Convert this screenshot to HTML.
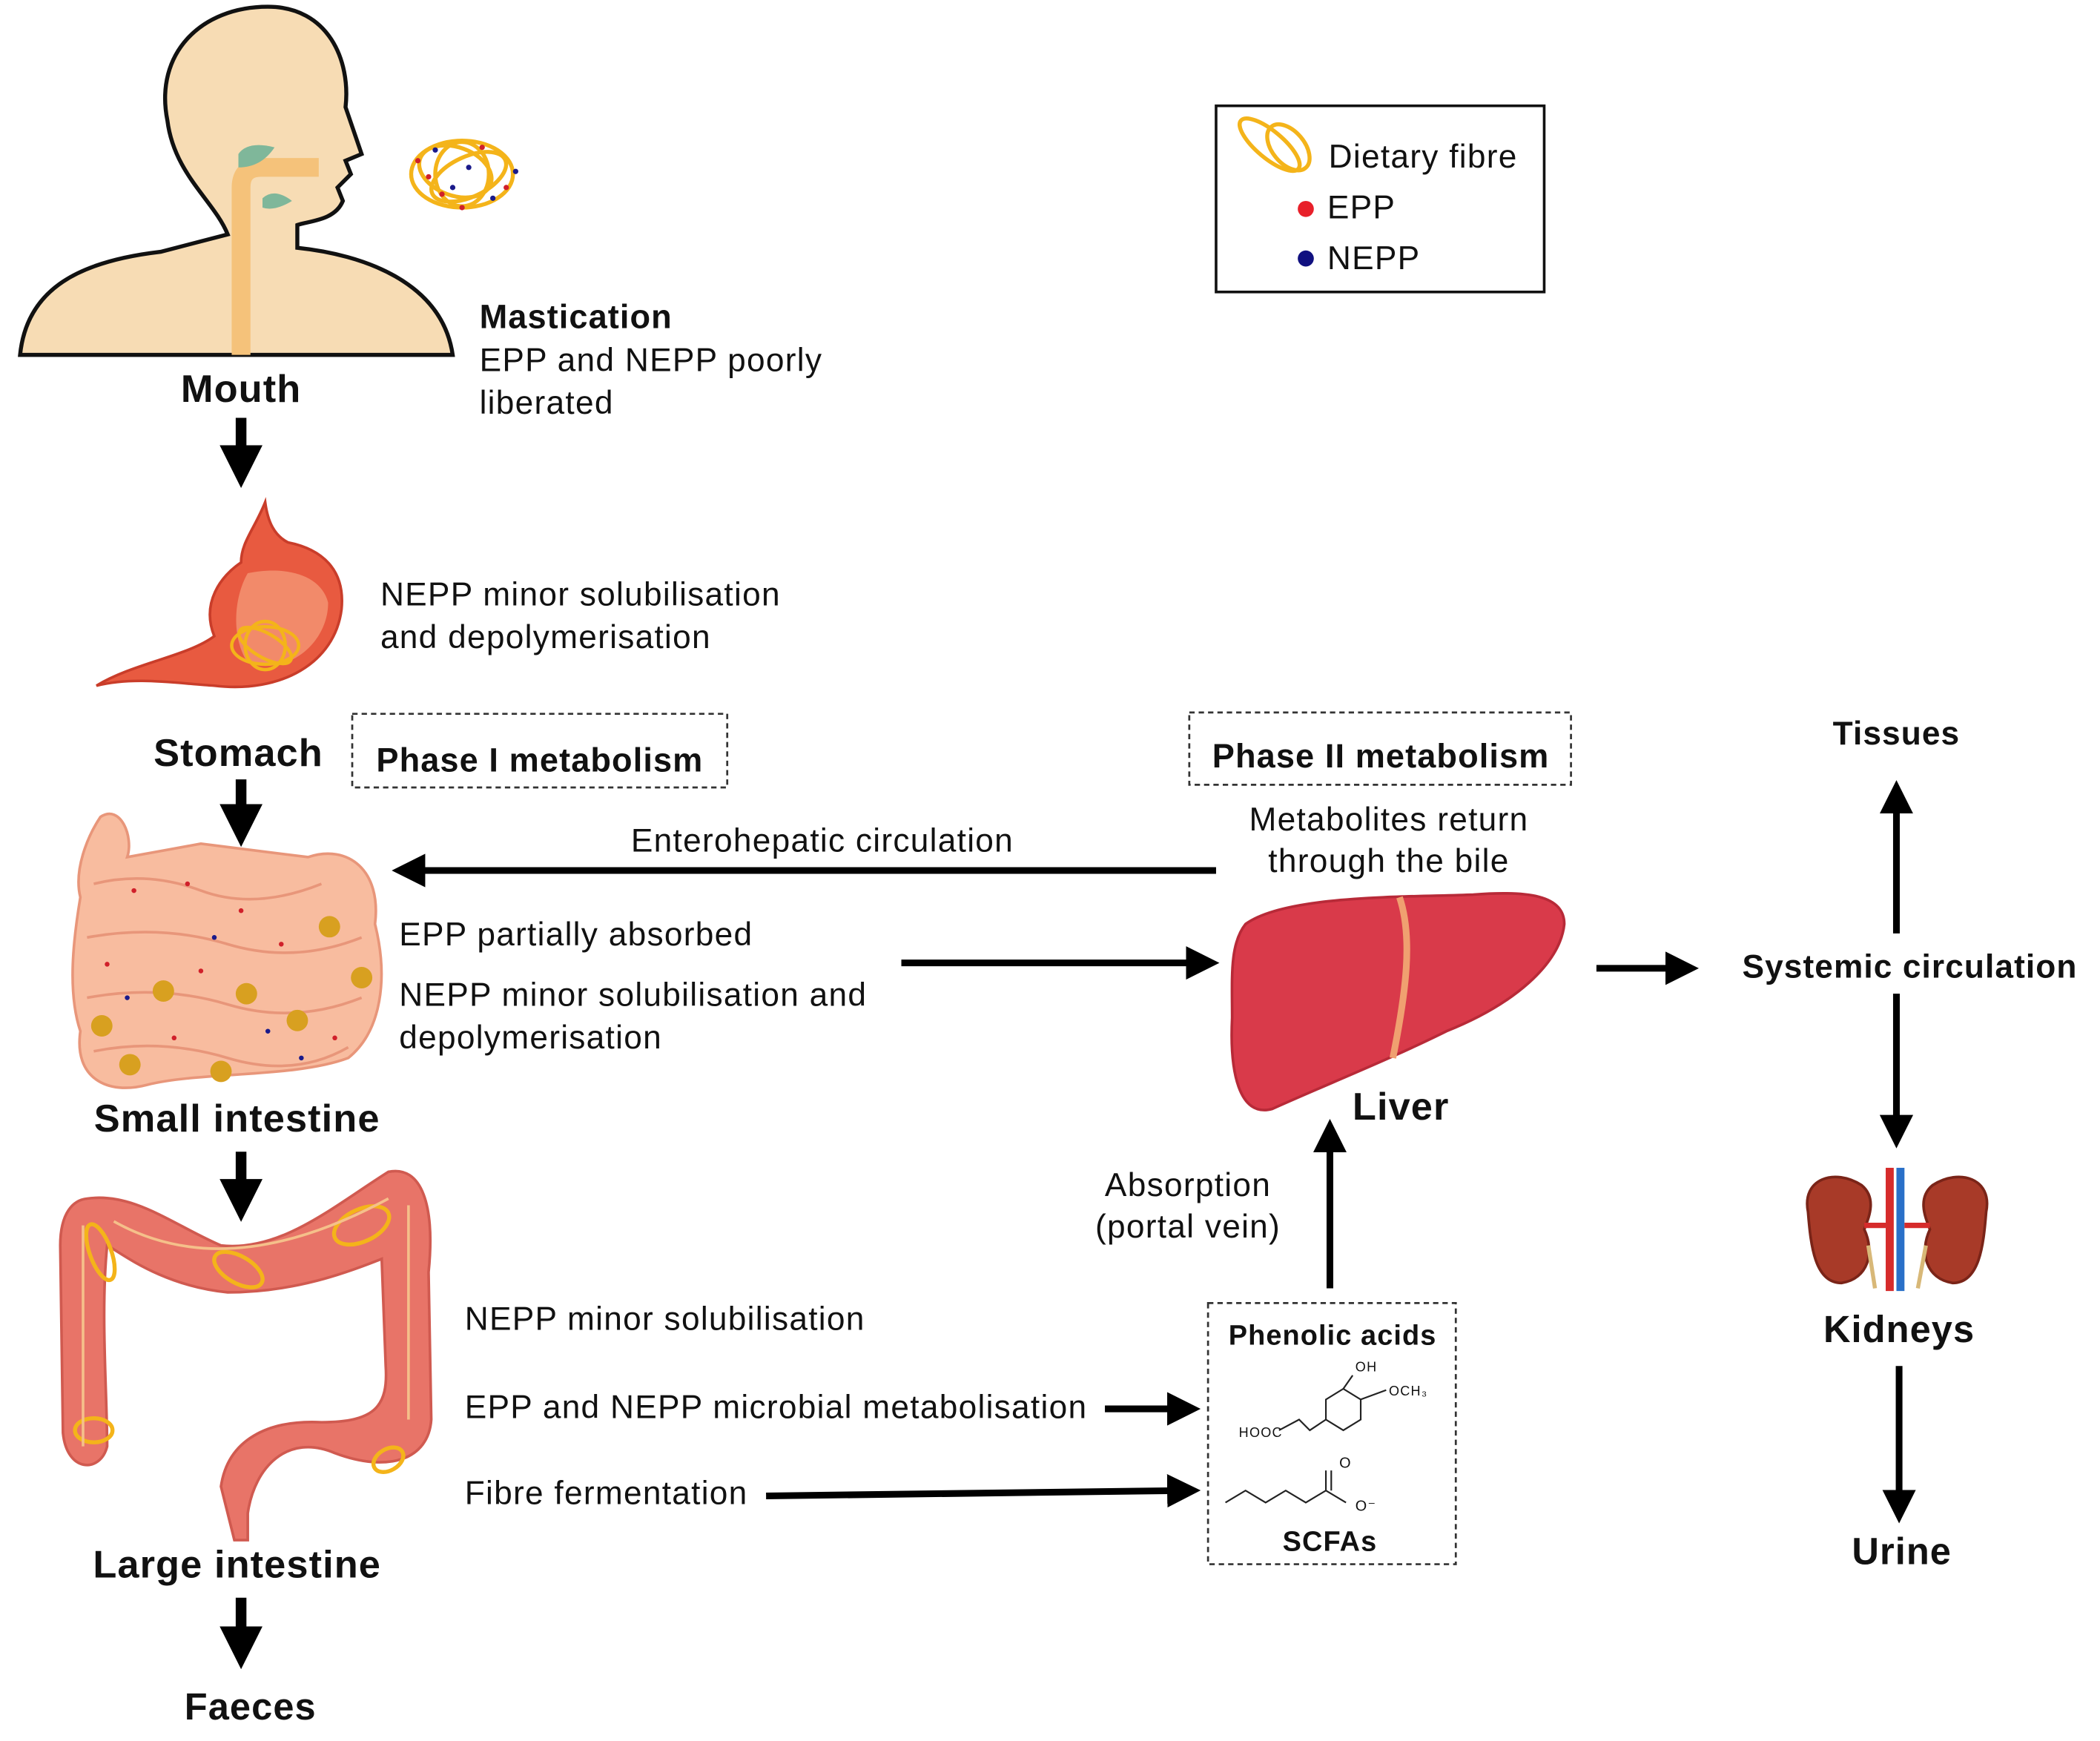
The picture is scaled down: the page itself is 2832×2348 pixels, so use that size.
<!DOCTYPE html>
<html><head><meta charset="utf-8"><style>
html,body{margin:0;padding:0;background:#fff}
svg{display:block}
text{font-family:"Liberation Sans",Arial,sans-serif;fill:#111;letter-spacing:0.7px}
.b{font-weight:bold;letter-spacing:0.6px}
</style></head><body>
<svg width="2832" height="2348" viewBox="0 0 1568 1300" xmlns="http://www.w3.org/2000/svg">
<defs>
<marker id="ah" markerWidth="4" markerHeight="4" refX="2.2" refY="2" orient="auto" markerUnits="strokeWidth"><path d="M0,0 L4,2 L0,4 Z" fill="#000"/></marker>
<marker id="ah2" markerWidth="5" markerHeight="5" refX="2.5" refY="2.5" orient="auto" markerUnits="strokeWidth"><path d="M0,0 L5,2.5 L0,5 Z" fill="#000"/></marker>
</defs>
<rect width="1568" height="1300" fill="#fff"/>

<!-- Person -->
<path d="M15,265 C20,215 60,195 120,188 L170,175 C160,150 130,130 125,90 C115,40 150,5 200,5 C245,5 262,45 258,80 L270,115 L258,120 L262,130 L252,140 L256,150 C250,165 230,165 222,168 L222,185 C270,190 330,210 338,265 Z" fill="#f7dcb4" stroke="#111" stroke-width="3"/>
<path d="M180,265 L180,140 Q180,125 195,125 L238,125" fill="none" stroke="#f5c27a" stroke-width="14"/>
<path d="M178,115 Q185,105 205,110 Q195,125 178,125 Z" fill="#7fb79a"/>
<path d="M196,148 Q205,140 218,150 Q205,158 196,155 Z" fill="#7fb79a"/>
<g fill="none" stroke="#f4b41a" stroke-width="3">
<ellipse cx="345" cy="130" rx="38" ry="25"/><ellipse cx="340" cy="128" rx="28" ry="18" transform="rotate(20 340 128)"/><ellipse cx="350" cy="132" rx="30" ry="15" transform="rotate(-25 350 132)"/><ellipse cx="345" cy="130" rx="20" ry="24"/>
</g>
<g fill="#d0202a"><circle cx="312" cy="120" r="2"/><circle cx="330" cy="145" r="2"/><circle cx="360" cy="110" r="2"/><circle cx="378" cy="140" r="2"/><circle cx="345" cy="155" r="2"/><circle cx="320" cy="132" r="2"/></g>
<g fill="#1a1a8a"><circle cx="325" cy="112" r="2"/><circle cx="350" cy="125" r="2"/><circle cx="368" cy="148" r="2"/><circle cx="385" cy="128" r="2"/><circle cx="338" cy="140" r="2"/></g>

<text x="358" y="245" font-size="25" class="b">Mastication</text>
<text x="358" y="277" font-size="24.5">EPP and NEPP poorly</text>
<text x="358" y="309" font-size="24.5">liberated</text>
<text x="180" y="300" font-size="29" class="b" text-anchor="middle">Mouth</text>
<line x1="180" y1="312" x2="180" y2="350" stroke="#000" stroke-width="8" marker-end="url(#ah)"/>

<!-- Stomach -->
<path d="M198,375 C190,395 180,405 180,420 C165,430 150,450 160,475 C140,490 100,495 72,512 C100,505 130,510 160,512 C210,518 250,495 255,455 C258,425 240,410 215,405 C205,400 200,390 198,375 Z" fill="#e85a40" stroke="#c93d2a" stroke-width="2"/>
<path d="M185,428 C175,445 172,475 185,495 C215,505 245,480 245,450 C240,430 215,422 185,428 Z" fill="#f28a6a"/>
<g fill="none" stroke="#f4b41a" stroke-width="2.5"><ellipse cx="198" cy="482" rx="25" ry="14"/><ellipse cx="198" cy="482" rx="15" ry="18"/><ellipse cx="198" cy="482" rx="22" ry="9" transform="rotate(30 198 482)"/></g>
<text x="284" y="452" font-size="24.5">NEPP minor solubilisation</text>
<text x="284" y="484" font-size="24.5">and depolymerisation</text>
<text x="178" y="572" font-size="29" class="b" text-anchor="middle">Stomach</text>

<rect x="263" y="533" width="280" height="55" fill="none" stroke="#333" stroke-width="1.5" stroke-dasharray="4,3"/>
<text x="403" y="576" font-size="25" class="b" text-anchor="middle">Phase I metabolism</text>
<line x1="180" y1="582" x2="180" y2="618" stroke="#000" stroke-width="8" marker-end="url(#ah)"/>

<!-- Small intestine -->
<path d="M75,610 C90,600 100,625 95,640 L150,630 L230,640 C260,630 285,650 280,690 C290,730 285,770 260,790 C220,805 150,800 110,810 C80,818 55,805 60,770 C50,740 55,700 60,670 C55,650 65,625 75,610 Z" fill="#f8bc9f" stroke="#e8967a" stroke-width="2"/>
<g fill="none" stroke="#e8967a" stroke-width="2">
<path d="M70,660 Q110,650 150,665 T240,660"/><path d="M65,700 Q120,690 170,705 T270,700"/><path d="M65,745 Q120,735 170,750 T270,745"/><path d="M70,785 Q120,775 170,790 T260,782"/>
</g>
<g fill="#d8a020"><circle cx="246" cy="692" r="8"/><circle cx="122" cy="740" r="8"/><circle cx="184" cy="742" r="8"/><circle cx="270" cy="730" r="8"/><circle cx="76" cy="766" r="8"/><circle cx="222" cy="762" r="8"/><circle cx="97" cy="795" r="8"/><circle cx="165" cy="800" r="8"/></g>
<g fill="#d0202a"><circle cx="100" cy="665" r="1.8"/><circle cx="140" cy="660" r="1.8"/><circle cx="180" cy="680" r="1.8"/><circle cx="210" cy="705" r="1.8"/><circle cx="150" cy="725" r="1.8"/><circle cx="80" cy="720" r="1.8"/><circle cx="130" cy="775" r="1.8"/><circle cx="250" cy="775" r="1.8"/></g>
<g fill="#1a1a8a"><circle cx="95" cy="745" r="1.8"/><circle cx="200" cy="770" r="1.8"/><circle cx="225" cy="790" r="1.8"/><circle cx="160" cy="700" r="1.8"/></g>

<line x1="908" y1="650" x2="305" y2="650" stroke="#000" stroke-width="5" marker-end="url(#ah2)"/>
<text x="614" y="636" font-size="24.5" text-anchor="middle">Enterohepatic circulation</text>
<text x="298" y="706" font-size="24.5">EPP partially absorbed</text>
<text x="298" y="751" font-size="24.5">NEPP minor solubilisation and</text>
<text x="298" y="783" font-size="24.5">depolymerisation</text>
<line x1="673" y1="719" x2="898" y2="719" stroke="#000" stroke-width="5" marker-end="url(#ah2)"/>
<text x="177" y="845" font-size="29" class="b" text-anchor="middle">Small intestine</text>
<line x1="180" y1="860" x2="180" y2="898" stroke="#000" stroke-width="8" marker-end="url(#ah)"/>

<!-- Large intestine -->
<path d="M65,895 C100,890 130,915 165,930 C210,935 250,900 290,875 C315,870 325,900 320,950 L322,1060 C320,1090 290,1100 250,1085 C215,1070 190,1095 185,1130 L185,1150 L175,1150 L165,1110 C170,1075 200,1060 240,1062 C280,1062 290,1050 288,1020 L285,940 C260,950 220,965 170,965 C120,960 90,935 80,930 C75,980 80,1040 80,1080 C75,1100 50,1100 47,1070 L45,930 C45,905 55,896 65,895 Z" fill="#e87468" stroke="#d05a50" stroke-width="2"/>
<g fill="none" stroke="#f4b41a" stroke-width="3">
<ellipse cx="75" cy="935" rx="8" ry="22" transform="rotate(-20 75 935)"/><ellipse cx="178" cy="948" rx="20" ry="10" transform="rotate(30 178 948)"/><ellipse cx="270" cy="915" rx="22" ry="12" transform="rotate(-25 270 915)"/><ellipse cx="70" cy="1068" rx="14" ry="9"/><ellipse cx="290" cy="1090" rx="12" ry="8" transform="rotate(-30 290 1090)"/>
</g>
<g fill="none" stroke="#f5c08a" stroke-width="2"><path d="M62,915 L62,1080"/><path d="M305,900 L305,1060"/><path d="M85,912 Q170,960 290,895"/></g>

<text x="347" y="993" font-size="24.5">NEPP minor solubilisation</text>
<text x="347" y="1059" font-size="24.5">EPP and NEPP microbial metabolisation</text>
<line x1="825" y1="1052" x2="884" y2="1052" stroke="#000" stroke-width="5" marker-end="url(#ah2)"/>
<text x="347" y="1123" font-size="24.5">Fibre fermentation</text>
<line x1="572" y1="1117" x2="884" y2="1113" stroke="#000" stroke-width="5" marker-end="url(#ah2)"/>
<text x="177" y="1178" font-size="29" class="b" text-anchor="middle">Large intestine</text>
<line x1="180" y1="1193" x2="180" y2="1232" stroke="#000" stroke-width="8" marker-end="url(#ah)"/>
<text x="187" y="1284" font-size="28" class="b" text-anchor="middle">Faeces</text>

<!-- Phenolic box -->
<rect x="902" y="973" width="185" height="195" fill="none" stroke="#333" stroke-width="1.5" stroke-dasharray="4,3"/>
<text x="995" y="1004" font-size="21" class="b" text-anchor="middle">Phenolic acids</text>
<g fill="none" stroke="#222" stroke-width="1.2">
<path d="M955,1068 L970,1060 L978,1068 L990,1060"/>
<path d="M990,1060 L990,1045 L1003,1037 L1016,1045 L1016,1060 L1003,1068 Z"/>
<path d="M1003,1037 L1010,1027"/><path d="M1016,1045 L1035,1038"/>
<path d="M915,1122 L930,1113 L945,1122 L960,1113 L975,1122 L990,1113 L1005,1122"/>
<path d="M990,1113 L990,1098"/><path d="M994,1113 L994,1098"/>
</g>
<text x="1012" y="1024" font-size="10">OH</text>
<text x="1037" y="1042" font-size="10">OCH₃</text>
<text x="925" y="1073" font-size="10">HOOC</text>
<text x="1000" y="1096" font-size="11">O</text>
<text x="1012" y="1128" font-size="11">O⁻</text>
<text x="993" y="1158" font-size="21" class="b" text-anchor="middle">SCFAs</text>

<line x1="993" y1="962" x2="993" y2="848" stroke="#000" stroke-width="5" marker-end="url(#ah2)"/>
<text x="887" y="893" font-size="24.5" text-anchor="middle">Absorption</text>
<text x="887" y="924" font-size="24.5" text-anchor="middle">(portal vein)</text>

<!-- Liver -->
<path d="M930,690 C960,668 1050,670 1100,668 C1140,665 1168,668 1168,690 C1165,720 1130,750 1080,770 C1040,790 990,810 950,828 C925,835 918,800 920,760 C920,730 918,705 930,690 Z" fill="#d93a4a" stroke="#b82a38" stroke-width="2"/>
<path d="M1045,670 C1055,700 1050,740 1040,790" fill="none" stroke="#f0a070" stroke-width="5"/>
<text x="1046" y="836" font-size="29" class="b" text-anchor="middle">Liver</text>

<rect x="888" y="532" width="285" height="54" fill="none" stroke="#333" stroke-width="1.5" stroke-dasharray="4,3"/>
<text x="1031" y="573" font-size="25" class="b" text-anchor="middle">Phase II metabolism</text>
<text x="1037" y="620" font-size="24.5" text-anchor="middle">Metabolites return</text>
<text x="1037" y="651" font-size="24.5" text-anchor="middle">through the bile</text>

<line x1="1192" y1="723" x2="1256" y2="723" stroke="#000" stroke-width="5" marker-end="url(#ah2)"/>
<text x="1426" y="730" font-size="24.5" class="b" text-anchor="middle">Systemic circulation</text>
<line x1="1416" y1="697" x2="1416" y2="595" stroke="#000" stroke-width="5" marker-end="url(#ah2)"/>
<text x="1416" y="556" font-size="24.5" class="b" text-anchor="middle">Tissues</text>
<line x1="1416" y1="742" x2="1416" y2="845" stroke="#000" stroke-width="5" marker-end="url(#ah2)"/>

<!-- Kidneys -->
<path d="M1350,905 C1345,880 1370,872 1390,885 C1402,895 1395,910 1392,918 C1400,935 1395,955 1375,958 C1355,958 1352,930 1350,905 Z" fill="#a83a28" stroke="#7a2418" stroke-width="2"/>
<path d="M1483,905 C1488,880 1463,872 1443,885 C1431,895 1438,910 1441,918 C1433,935 1438,955 1458,958 C1478,958 1481,930 1483,905 Z" fill="#a83a28" stroke="#7a2418" stroke-width="2"/>
<rect x="1408" y="872" width="6" height="92" fill="#d62b2b"/><rect x="1416" y="872" width="6" height="92" fill="#2a70c8"/>
<path d="M1392,915 L1408,915 M1441,915 L1422,915" stroke="#d62b2b" stroke-width="4"/>
<path d="M1395,930 L1400,962 M1438,930 L1432,962" stroke="#d8b878" stroke-width="3"/>
<text x="1418" y="1002" font-size="28" class="b" text-anchor="middle">Kidneys</text>
<line x1="1418" y1="1020" x2="1418" y2="1125" stroke="#000" stroke-width="5" marker-end="url(#ah2)"/>
<text x="1420" y="1168" font-size="28" class="b" text-anchor="middle">Urine</text>

<!-- Legend -->
<rect x="908" y="79" width="245" height="139" fill="none" stroke="#111" stroke-width="2"/>
<g fill="none" stroke="#f4b41a" stroke-width="3">
<ellipse cx="948" cy="108" rx="28" ry="10" transform="rotate(40 948 108)"/><ellipse cx="962" cy="110" rx="20" ry="12" transform="rotate(50 962 110)"/>
</g>
<text x="992" y="125" font-size="24.5">Dietary fibre</text>
<circle cx="975" cy="156" r="6" fill="#e8202a"/><text x="991" y="163" font-size="24.5">EPP</text>
<circle cx="975" cy="193" r="6" fill="#101080"/><text x="991" y="201" font-size="24.5">NEPP</text>
</svg>
</body></html>
